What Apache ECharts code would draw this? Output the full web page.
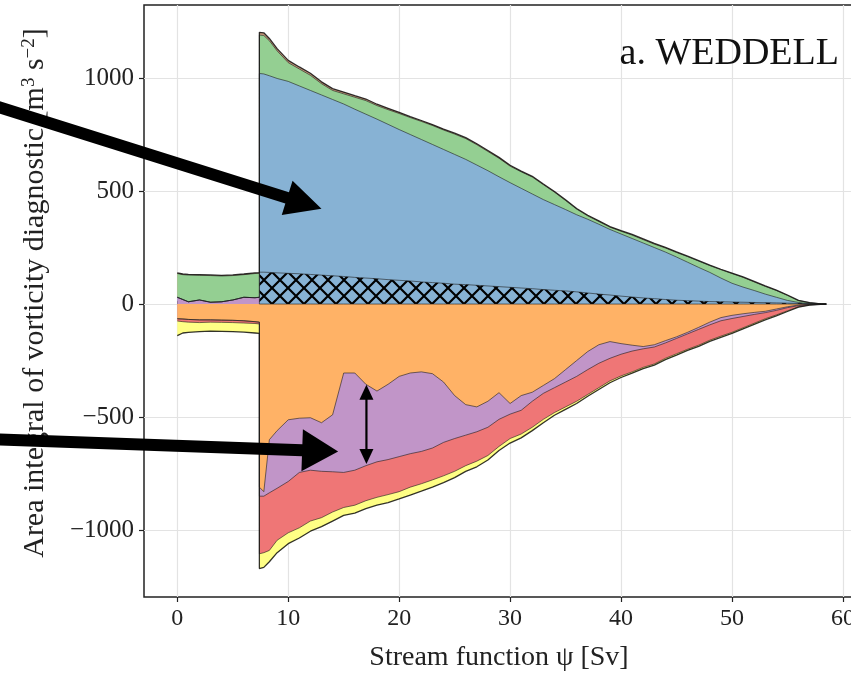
<!DOCTYPE html>
<html>
<head>
<meta charset="utf-8">
<title>a. WEDDELL</title>
<script src="https://cdn.jsdelivr.net/npm/echarts@6/dist/echarts.min.js"></script>
<style>
  html, body { margin: 0; padding: 0; background: #fff; }
  #chart { width: 851px; height: 675px; }
</style>
</head>
<body>
<div id="chart"></div>
<script>
// stream function psi [Sv]; 7.4 is listed twice for the jump
const psi = [0, 0.5, 1, 2, 3, 4, 5, 6, 7, 7.4,
  7.4, 7.8, 8.3,
  9, 10, 11, 12, 13, 14, 15, 16, 17, 18, 19, 20, 21, 22, 23, 24, 25, 26, 27, 28, 29, 30,
  31, 32, 33, 34, 35, 36, 37, 38, 39, 40, 41, 42, 43, 44, 45, 46, 47, 48, 49, 50,
  51, 52, 53, 54, 55, 56, 57, 58, 58.5];

// positive contributions (bottom -> top)
const purplePos = [30, 20, 10, 18, 8, 10, 18, 30, 28, 30,
  0, 0, 0,
  0, 0, 0, 0, 0, 0, 0, 0, 0, 0, 0, 0, 0, 0, 0, 0, 0, 0, 0, 0, 0, 0,
  0, 0, 0, 0, 0, 0, 0, 0, 0, 0, 0, 0, 0, 0, 0, 0, 0, 0, 0, 0,
  0, 0, 0, 0, 0, 0, 0, 0, 0];
const hatched = [0, 0, 0, 0, 0, 0, 0, 0, 0, 0,
  141, 141, 140,
  138, 136, 134, 131, 128, 125, 122, 118, 115, 112, 108, 105, 102, 98, 95, 92, 88, 86, 83, 80, 77, 74,
  71, 68, 64, 61, 58, 54, 49, 44, 40, 35, 31, 27, 24, 20, 17, 15, 13, 11, 10, 9,
  8, 7, 6, 5, 4, 3, 1, 0, 0];
const blue = [0, 0, 0, 0, 0, 0, 0, 0, 0, 0,
  879, 877, 870,
  860, 849, 831, 814, 797, 780, 763, 744, 725, 706, 687, 667, 648, 630, 611, 592, 574, 554, 532, 510, 486, 463,
  441, 419, 398, 379, 360, 341, 326, 309, 290, 275, 259, 243, 226, 210, 191, 170, 149, 129, 105, 83,
  67, 53, 38, 25, 12, 4, 1, 0, 0];
const green = [105, 110, 118, 109, 118, 114, 108, 100, 107, 106,
  170, 170, 155,
  122, 83, 75, 67, 50, 40, 45, 53, 60, 60, 65, 71, 75, 80, 84, 86, 90, 92, 90, 85, 82, 73,
  73, 75, 66, 55, 40, 25, 15, 12, 10, 12, 15, 15, 15, 18, 20, 25, 28, 30, 37, 43,
  43, 38, 34, 30, 22, 8, 4, 1, 0];
const brown = [3, 3, 3, 3, 3, 3, 3, 3, 3, 3,
  12, 12, 10,
  10, 10, 9, 9, 8, 8, 8, 7, 7, 6, 6, 5, 4, 4, 4, 4, 4, 4, 4, 4, 4, 4,
  3, 3, 3, 3, 3, 3, 3, 3, 3, 3, 3, 3, 3, 3, 3, 2, 2, 2, 2, 2,
  2, 2, 2, 2, 2, 1, 0, 0, 0];

// negative contributions (top -> bottom)
const orange = [-65, -66, -68, -70, -70, -71, -72, -74, -78, -80,
  -810, -830, -600,
  -560, -512, -505, -503, -525, -490, -305, -305, -355, -385, -355, -320, -305, -300, -308, -345, -405, -445, -455, -430, -392, -440,
  -405, -390, -360, -330, -290, -250, -210, -180, -166, -175, -182, -188, -180, -162, -145, -125, -103, -80, -60, -50,
  -43, -37, -32, -22, -12, -4, -1, 0, 0];
const purpleNeg = [0, 0, 0, 0, 0, 0, 0, 0, 0, 0,
  -40, -20, -235,
  -255, -273, -240, -232, -215, -252, -440, -430, -360, -313, -333, -355, -357, -352, -329, -267, -190, -135, -110, -115, -118, -47,
  -65, -40, -35, -40, -55, -70, -80, -82, -74, -47, -26, -10, -10, -10, -7, -7, -9, -12, -14, -14,
  -12, -9, -6, -6, -4, -3, -1, 0, 0];
const red = [-10, -12, -12, -12, -10, -10, -10, -10, -8, -8,
  -255, -250, -255,
  -230, -227, -245, -225, -205, -178, -155, -155, -155, -157, -155, -155, -148, -143, -141, -148, -145, -135, -130, -125, -120, -108,
  -105, -115, -115, -110, -110, -110, -110, -108, -100, -96, -92, -82, -75, -68, -68, -68, -70, -68, -68, -61,
  -50, -39, -27, -20, -14, -5, -2, -1, 0];
const yellow = [-65, -50, -45, -40, -40, -40, -40, -40, -42, -42,
  -65, -65, -50,
  -55, -48, -45, -45, -40, -40, -35, -35, -35, -35, -35, -32, -35, -33, -32, -30, -28, -25, -25, -20, -18, -20,
  -17, -15, -15, -12, -11, -10, -8, -8, -8, -7, -6, -6, -5, -6, -6, -5, -5, -5, -5, -5,
  -5, -5, -5, -4, -3, -2, -1, 0, 0];

const xTicks = [0, 10, 20, 30, 40, 50, 60];
const yTicks = [-1000, -500, 0, 500, 1000];

const FONT = 'Liberation Serif';
const C = {
  blue: '#87b2d4', green: '#94cf92', purple: '#c195c8', orange: '#ffb266',
  red: '#ef7676', yellow: '#ffff85', brown: '#ca9a7e'
};
const EDGE = 'rgba(30,30,30,0.6)';
const OUTER = 'rgba(0,0,0,0.8)';

function hatchPattern() {
  const c = document.createElement('canvas');
  c.width = 16; c.height = 16;
  const g = c.getContext('2d');
  g.fillStyle = C.blue;
  g.fillRect(0, 0, 16, 16);
  g.strokeStyle = '#000';
  g.lineWidth = 2.2;
  g.beginPath();
  [-16, 0, 16].forEach(k => {
    g.moveTo(k, 0); g.lineTo(k + 16, 16);
    g.moveTo(k + 16, 0); g.lineTo(k, 16);
  });
  g.stroke();
  return c;
}

// running sums of the layers, like a stackplot
function runningTops(layers) {
  let run = psi.map(() => 0);
  return layers.map(l => (run = run.map((v, i) => v + l[i])));
}
const posTops = runningTops([purplePos, hatched, blue, green, brown]);
const negTops = runningTops([orange, purpleNeg, red, yellow]);

function layer(name, tops, fill, edge) {
  return {
    name: name,
    type: 'line',
    data: psi.map((x, i) => [x, tops[i]]),
    showSymbol: false,
    symbol: 'none',
    lineStyle: { color: edge || EDGE, width: edge ? 1.3 : 1 },
    areaStyle: { color: fill, opacity: 1 },
    emphasis: { disabled: true },
    silent: true
  };
}

const chart = echarts.init(document.getElementById('chart'));
const minus = v => String(v).replace('-', '\u2212');

chart.setOption({
  animation: false,
  backgroundColor: '#fff',
  title: {
    text: 'a. WEDDELL',
    right: 7, top: 30,
    textStyle: { fontFamily: FONT, fontSize: 38, fontWeight: 'normal', color: '#111' }
  },
  grid: {
    left: 144, top: 5, width: 710, height: 592,
    outerBoundsMode: 'none', containLabel: false,
    show: true, borderColor: '#222', borderWidth: 1.5, backgroundColor: '#fff'
  },
  xAxis: {
    type: 'value', min: -3, max: 61,
    name: 'Stream function \u03c8 [Sv]',
    nameLocation: 'middle', nameGap: 47,
    nameTextStyle: { fontFamily: FONT, fontSize: 28, color: '#222' },
    axisLine: { show: false, onZero: false },
    axisTick: { show: true, length: 5, customValues: xTicks, lineStyle: { color: '#222', width: 1.2 } },
    axisLabel: { customValues: xTicks, fontFamily: FONT, fontSize: 24, color: '#222', margin: 10 },
    splitLine: { show: true, lineStyle: { color: '#e3e3e3', width: 1.2 } }
  },
  yAxis: {
    type: 'value', min: -1296, max: 1323,
    name: 'Area integral of vorticity diagnostic [m{sup|3} s{sup|\u22122}]',
    nameLocation: 'middle', nameGap: 94,
    nameTextStyle: {
      fontFamily: FONT, fontSize: 30, color: '#222', padding: [0, 0, 0, 16],
      rich: { sup: { fontFamily: FONT, fontSize: 19, color: '#222', verticalAlign: 'top' } }
    },
    axisLine: { show: false, onZero: false },
    axisTick: { show: true, length: 5, customValues: yTicks, lineStyle: { color: '#222', width: 1.2 } },
    axisLabel: { customValues: yTicks, fontFamily: FONT, fontSize: 25, color: '#222', margin: 10, formatter: minus },
    splitLine: { show: true, lineStyle: { color: '#e3e3e3', width: 1.2 } }
  },
  // largest running sum first, so each smaller one paints over it
  series: [
    layer('brown', posTops[4], C.brown, OUTER),
    layer('green', posTops[3], C.green),
    layer('blue', posTops[2], C.blue),
    layer('hatched', posTops[1], { image: hatchPattern(), repeat: 'repeat' }),
    layer('purple+', posTops[0], C.purple),
    layer('yellow', negTops[3], C.yellow, OUTER),
    layer('red', negTops[2], C.red),
    layer('purple-', negTops[1], C.purple),
    layer('orange', negTops[0], C.orange)
  ]
});

// annotation arrows, given in data coordinates
function arrowPts(p0, p1, shaft, headLen, headHalf) {
  const dx = p1[0] - p0[0], dy = p1[1] - p0[1];
  const L = Math.hypot(dx, dy);
  const ux = dx / L, uy = dy / L, nx = -uy, ny = ux;
  const bx = p1[0] - ux * headLen, by = p1[1] - uy * headLen;
  const s = shaft / 2;
  return [
    [p0[0] + nx * s, p0[1] + ny * s], [bx + nx * s, by + ny * s],
    [bx + nx * headHalf, by + ny * headHalf], p1,
    [bx - nx * headHalf, by - ny * headHalf], [bx - nx * s, by - ny * s],
    [p0[0] - nx * s, p0[1] - ny * s]
  ];
}
const px = p => chart.convertToPixel({ gridIndex: 0 }, p);
const a1 = arrowPts(px([-17, 885]), px([13.0, 422]), 12, 36, 18);
const a2 = arrowPts(px([-17, -598]), px([14.5, -652]), 12, 36, 21);
const dTop = px([17.05, -357]), dBot = px([17.05, -708]);
const arrowStyle = { fill: '#000' };

chart.setOption({
  graphic: [
    { type: 'polygon', z: 100, shape: { points: a1 }, style: arrowStyle, silent: true },
    { type: 'polygon', z: 100, shape: { points: a2 }, style: arrowStyle, silent: true },
    { type: 'line', z: 100, shape: { x1: dTop[0], y1: dTop[1] + 12, x2: dBot[0], y2: dBot[1] - 12 },
      style: { stroke: '#000', lineWidth: 2.2 }, silent: true },
    { type: 'polygon', z: 100, shape: { points: [[dTop[0], dTop[1]], [dTop[0] - 7, dTop[1] + 15], [dTop[0] + 7, dTop[1] + 15]] },
      style: arrowStyle, silent: true },
    { type: 'polygon', z: 100, shape: { points: [[dBot[0], dBot[1]], [dBot[0] - 7, dBot[1] - 15], [dBot[0] + 7, dBot[1] - 15]] },
      style: arrowStyle, silent: true }
  ]
});
</script>
</body>
</html>
